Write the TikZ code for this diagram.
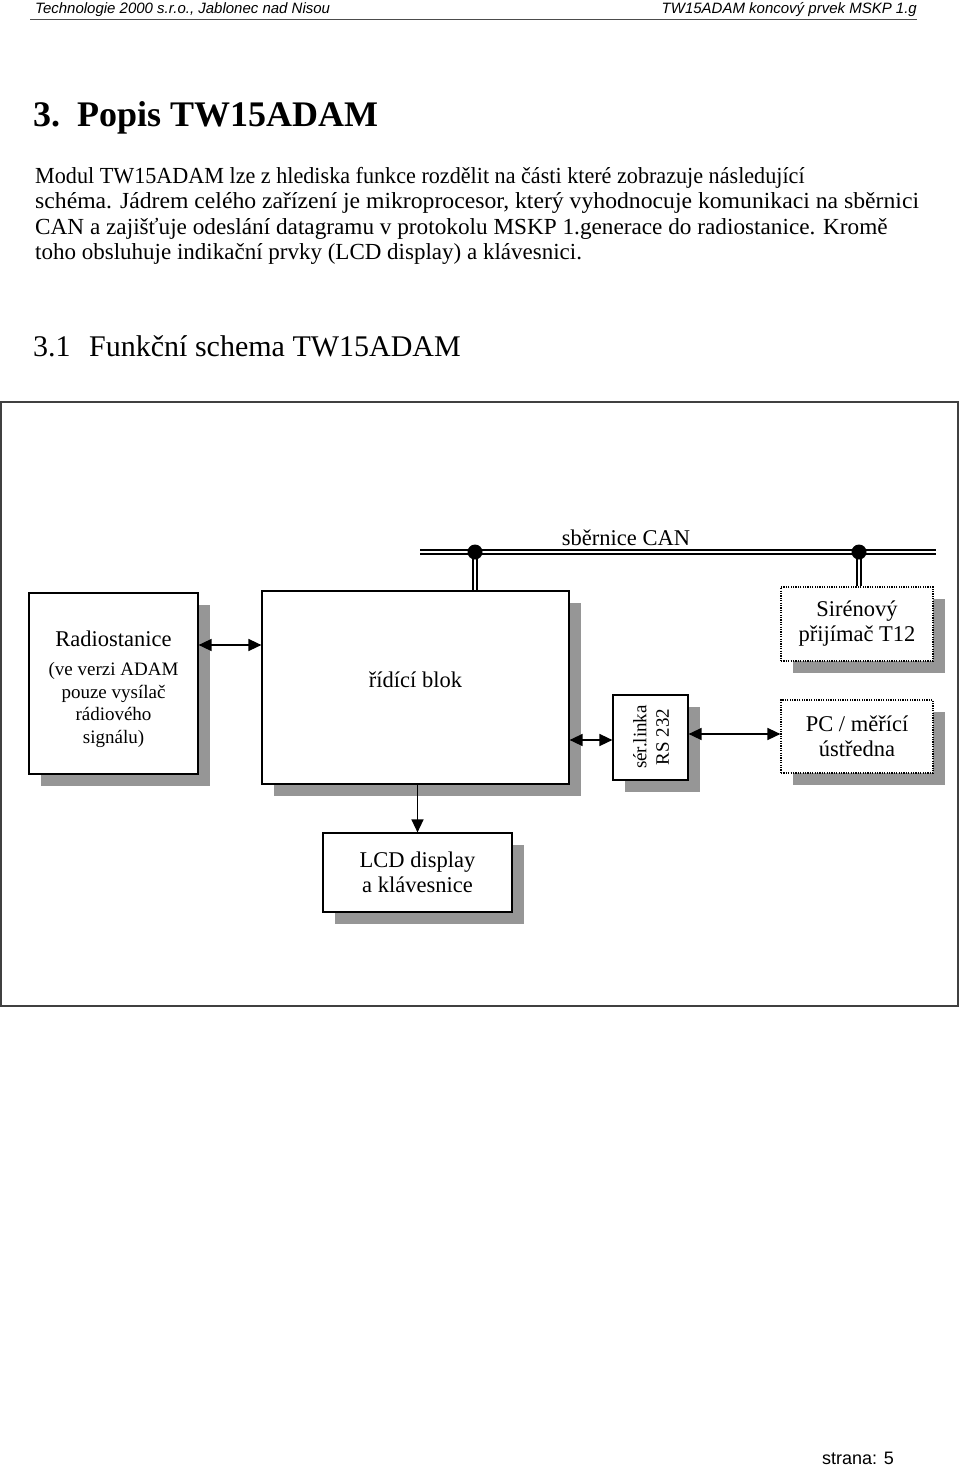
\documentclass[tikz,border=0pt]{standalone}
\usepackage{fontspec}
\usepackage{graphicx}
\setmainfont{Liberation Serif}
\newfontfamily\hdrfont{Liberation Sans}
\usetikzlibrary{arrows.meta,shadows}
\definecolor{shadowgray}{HTML}{969696}
\begin{document}
\begin{tikzpicture}[x=1pt,y=-1pt,
  box/.style={draw=black,line width=1.2pt,fill=white,inner sep=0pt,
    drop shadow={shadow xshift=12pt,shadow yshift=-12pt,fill=shadowgray,opacity=1}},
  dotbox/.style={box,dash pattern=on 1.2pt off 1.2pt},
  big/.style={font=\fontsize{22.5}{25}\selectfont},
  small/.style={font=\fontsize{19}{22.5}\selectfont},
  dbl/.style={draw=black,double=white,line width=1.4pt,double distance=2.8pt},
  arr/.style={line width=1.5pt,{Triangle[length=13pt,width=12pt]}-{Triangle[length=13pt,width=12pt]}},
  arr1/.style={line width=1.5pt,-{Triangle[length=13pt,width=12pt]}},
  txt/.style={anchor=base west,inner sep=0pt},
  para/.style={txt,font=\fontsize{23}{27}\selectfont},
  hdr/.style={inner sep=0pt,font=\hdrfont\itshape\fontsize{15}{18}\selectfont}
  ]
\useasboundingbox (0,0) rectangle (960,1466);
\fill[white] (0,0) rectangle (960,1466);

% header
\node[hdr,anchor=base west] (hl) at (35,13.5) {Technologie 2000 s.r.o., Jablonec nad Nisou};
\node[hdr,anchor=base east] (hr) at (917,13.5) {TW15ADAM koncový prvek MSKP 1.g};
\draw[line width=1.5pt,black!70] (30,19.5) -- (917,19.5);

% title
\node[txt,font=\bfseries\fontsize{36}{42}\selectfont] (t1) at (33,127) {3.};
\node[txt,font=\bfseries\fontsize{36}{42}\selectfont] (t2) at (77,127) {Popis TW15ADAM};

% paragraph
\node[para] (p1) at (35,183) {\scalebox{0.963}[1]{Modul TW15ADAM lze z hlediska funkce rozdělit na části které zobrazuje následující}};
\node[para] (p2) at (35,208.5) {\scalebox{1.03}[1]{schéma. Jádrem celého zařízení je mikroprocesor, který vyhodnocuje komunikaci na sběrnici}};
\node[para] (p3) at (35,234) {\scalebox{1.01}[1]{CAN a zajišťuje odeslání datagramu v protokolu MSKP 1.generace do radiostanice. Kromě}};
\node[para] (p4) at (35,259.5) {toho obsluhuje indikační prvky (LCD display) a klávesnici.};

% section
\node[txt,font=\fontsize{30}{35}\selectfont] (s1) at (33,356) {3.1};
\node[txt,font=\fontsize{30}{35}\selectfont] (s2) at (89,356) {Funkční schema TW15ADAM};

% frame
\draw[line width=1.2pt,draw=black!75] (1,402) rectangle (958,1006);

% boxes
\node[box,minimum width=169pt,minimum height=181pt] (radio) at (113.5,683.5) {};
\node[align=center,small,inner sep=0pt] (radiotxt) at (113.5,689) {{\fontsize{22.5}{25}\selectfont Radiostanice}\\[7pt](ve verzi ADAM\\pouze vysílač\\rádiového\\signálu)};

\node[box,minimum width=307pt,minimum height=193pt] (main) at (415.5,687.5) {};
\node[big,inner sep=0pt] (maintxt) at (415.5,680) {řídící blok};

\node[box,minimum width=75pt,minimum height=85pt] (ser) at (650.5,737.5) {};
\node[small,rotate=90,align=center,inner sep=0pt] (sertxt) at (651,737) {sér.linka\\RS 232};

\node[dotbox,minimum width=152pt,minimum height=74pt,align=center,big] (siren) at (857,624) {Sirénový\\přijímač T12};
\node[dotbox,minimum width=152pt,minimum height=73pt,align=center,big] (pc) at (857,736.5) {PC / měřící\\ústředna};

\node[box,minimum width=189pt,minimum height=79pt,align=center,big] (lcd) at (417.5,872.5) {LCD display\\a klávesnice};

% CAN bus
\coordinate (busL) at (420,552);
\coordinate (busR) at (936,552);
\coordinate (tapA) at (475,552);
\coordinate (tapB) at (859,552);
\draw[dbl] (busL) -- (busR);
\draw[dbl] (tapA) -- (tapA |- main.north);
\draw[dbl] (tapB) -- (tapB |- siren.north);
\fill (tapA) circle (7.5pt);
\fill (tapB) circle (7.5pt);
\node[big,anchor=base] (canlbl) at (626,545) {sběrnice CAN};

% arrows
\draw[arr] ([yshift=38.5pt]radio.east) -- ([yshift=38.5pt]radio.east -| main.west);
\draw[arr] ([yshift=-52.5pt]main.east) -- ([yshift=-52.5pt]main.east -| ser.west);
\draw[arr] ([yshift=3.5pt]ser.east) -- ([yshift=3.5pt]ser.east -| pc.west);
\draw[arr1] (lcd.north |- main.south) -- (lcd.north);

% footer
\node[anchor=base west,inner sep=0pt,font=\hdrfont\fontsize{18}{20}\selectfont] (foot) at (822,1464) {strana: 5};
\end{tikzpicture}
\end{document}
